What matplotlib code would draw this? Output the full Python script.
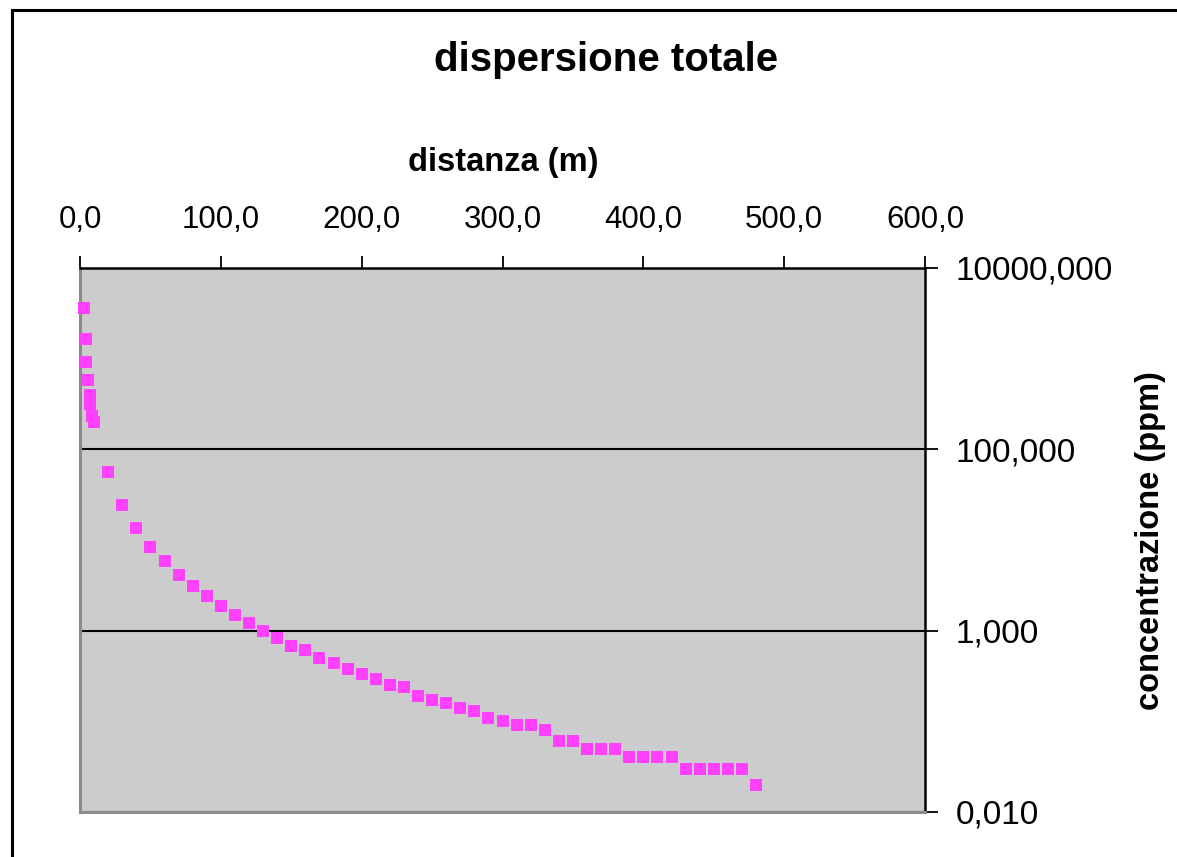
import matplotlib
matplotlib.use("Agg")
import matplotlib.pyplot as plt
from matplotlib.ticker import FuncFormatter, NullLocator, FixedLocator
from matplotlib.patches import Rectangle

plt.rcParams['font.family'] = ['Liberation Sans', 'DejaVu Sans']

# distanza (m)
distanza = [2.5, 4, 4, 5.5, 7, 7, 8.5, 10,
            20, 30, 40, 50, 60, 70, 80, 90, 100, 110,
            120, 130, 140, 150, 160, 170, 180, 190, 200, 210,
            220, 230, 240, 250, 260, 270, 280, 290, 300, 310,
            320, 330, 340, 350, 360, 370, 380, 390, 400, 410,
            420, 430, 440, 450, 460, 470, 480]
# concentrazione (ppm)
concentrazione = [3600, 1650, 930, 580, 400, 320, 235, 200,
                  56.8, 24.4, 13.7, 8.46, 5.89, 4.09, 3.12, 2.42, 1.85, 1.49,
                  1.21, 0.98, 0.84, 0.68, 0.61, 0.50, 0.44, 0.38, 0.33, 0.29,
                  0.25, 0.24, 0.19, 0.17, 0.16, 0.14, 0.13, 0.11, 0.10, 0.09,
                  0.09, 0.08, 0.06, 0.06, 0.05, 0.05, 0.05, 0.04, 0.04, 0.04,
                  0.04, 0.03, 0.03, 0.03, 0.03, 0.03, 0.02]

x_ticks = [0, 100, 200, 300, 400, 500, 600]
y_ticks = [0.01, 1, 100, 10000]

W, H = 1177, 857
fig = plt.figure(figsize=(W / 100, H / 100), dpi=100)

# outer chart frame (runs off the right and bottom edges)
fig.patches.append(Rectangle((12 / W, -0.05), 1.2, 1 - 10 / H + 0.05,
                             transform=fig.transFigure, fill=False,
                             edgecolor='black', linewidth=2.2))

ax = fig.add_axes([80 / W, 1 - 812 / H, (925 - 80) / W, (812 - 268) / H])
ax.set_facecolor('#CCCCCC')

ax.plot(distanza, concentrazione, linestyle='none', marker='s',
        markersize=8.6, markerfacecolor='#FF40FF', markeredgewidth=0,
        zorder=3, clip_on=False)

ax.set_yscale('log')
ax.set_xlim(0, 600)
ax.set_ylim(0.01, 10000)

ax.xaxis.tick_top()
ax.yaxis.tick_right()
ax.xaxis.set_major_locator(FixedLocator(x_ticks))
ax.yaxis.set_major_locator(FixedLocator(y_ticks))
ax.yaxis.set_minor_locator(NullLocator())
ax.xaxis.set_major_formatter(FuncFormatter(lambda v, p: f"{v:.1f}".replace('.', ',')))
ax.yaxis.set_major_formatter(FuncFormatter(lambda v, p: f"{v:.3f}".replace('.', ',')))

ax.tick_params(axis='x', direction='out', length=9, width=1.3, pad=15,
               labelsize=22.5, colors='black')
ax.tick_params(axis='y', direction='out', length=9, width=1.3, pad=13,
               labelsize=24, colors='black')

ax.grid(axis='y', color='black', linewidth=1.5)
ax.set_axisbelow(True)

for side in ['top', 'right']:
    ax.spines[side].set_color('black')
    ax.spines[side].set_linewidth(1.8)
for side in ['left', 'bottom']:
    ax.spines[side].set_color('#8C8C8C')
    ax.spines[side].set_linewidth(2.2)

fig.text(606 / W, 1 - 60 / H, 'dispersione totale', fontsize=29,
         fontweight='bold', ha='center', va='center')
fig.text(503 / W, 1 - 162 / H, 'distanza (m)', fontsize=23.5,
         fontweight='bold', ha='center', va='center')
fig.text(1150 / W, 1 - 541 / H, 'concentrazione (ppm)', fontsize=23.5,
         fontweight='bold', ha='center', va='center', rotation=90)

plt.savefig('out.png', dpi=100)
